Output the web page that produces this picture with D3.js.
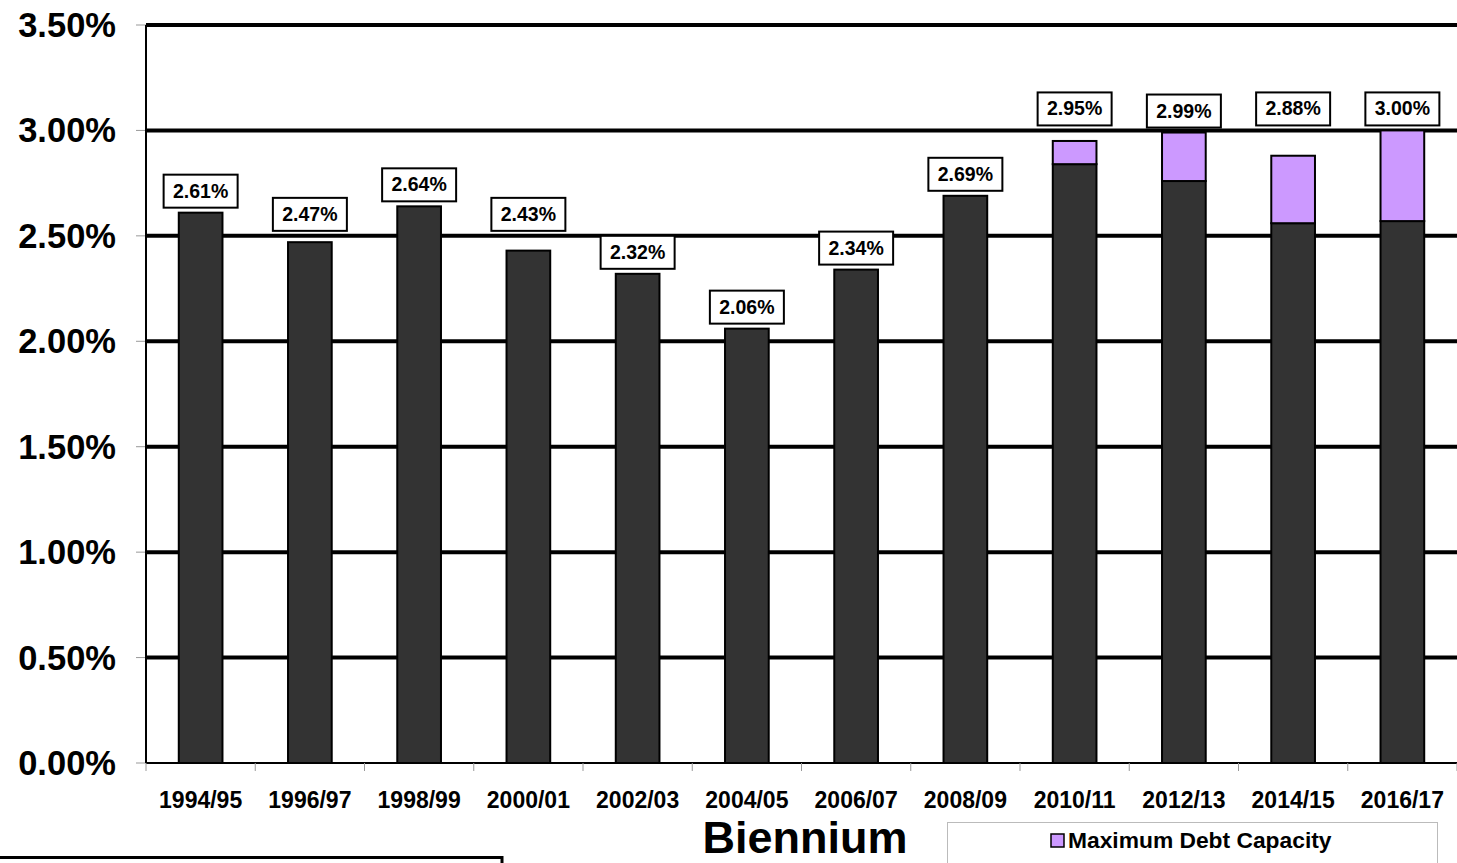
<!DOCTYPE html>
<html>
<head>
<meta charset="utf-8">
<script src="https://cdn.jsdelivr.net/npm/d3@7"></script>
<style>
  body { margin: 0; background: #fff; }
  svg { display: block; font-family: "Liberation Sans", Arial, sans-serif; font-weight: bold; }
</style>
</head>
<body>
<svg width="1457" height="863"></svg>
<script>
var biennia = ["1994/95", "1996/97", "1998/99", "2000/01", "2002/03", "2004/05",
               "2006/07", "2008/09", "2010/11", "2012/13", "2014/15", "2016/17"];
// debt service share (dark) and added maximum debt capacity (purple), in %
var debtService = [2.61, 2.47, 2.64, 2.43, 2.32, 2.06, 2.34, 2.69, 2.84, 2.76, 2.56, 2.57];
var maxCapacity = [0, 0, 0, 0, 0, 0, 0, 0, 0.11, 0.23, 0.32, 0.43];
var yTicks = [0, 0.5, 1, 1.5, 2, 2.5, 3, 3.5];

var svg = d3.select("svg"),
    plotL = 146, plotR = 1457, plotT = 25, plotB = 763;

var x = d3.scaleBand().domain(biennia).range([plotL, plotR]).paddingInner(0.6).paddingOuter(0.3);
var y = d3.scaleLinear().domain([0, 3.5]).range([plotB, plotT]);

var data = biennia.map(function(b, i) {
  return { name: b, base: debtService[i], extra: maxCapacity[i], total: +(debtService[i] + maxCapacity[i]).toFixed(2) };
});

// y axis labels + small gray ticks
var yAxis = svg.append("g");
yAxis.selectAll("line").data(yTicks).enter().append("line")
  .attr("x1", plotL - 10).attr("x2", plotL)
  .attr("y1", function(d) { return y(d); }).attr("y2", function(d) { return y(d); })
  .attr("stroke", "#999").attr("stroke-width", 1);
yAxis.selectAll("text").data(yTicks).enter().append("text")
  .attr("x", 116).attr("y", function(d) { return y(d) + 12; })
  .attr("text-anchor", "end").attr("font-size", 34.5)
  .text(function(d) { return d.toFixed(2) + "%"; });

// gridlines
svg.append("g").selectAll("line").data(yTicks.slice(1)).enter().append("line")
  .attr("x1", plotL).attr("x2", plotR)
  .attr("y1", function(d) { return y(d); }).attr("y2", function(d) { return y(d); })
  .attr("stroke", "#000").attr("stroke-width", 4);

// axis lines
svg.append("line").attr("x1", plotL).attr("x2", plotL).attr("y1", plotT).attr("y2", plotB)
  .attr("stroke", "#000").attr("stroke-width", 2);
svg.append("line").attr("x1", plotL).attr("x2", plotR).attr("y1", plotB).attr("y2", plotB)
  .attr("stroke", "#000").attr("stroke-width", 2);

// x ticks at band boundaries
var step = x.step();
svg.append("g").selectAll("line").data(d3.range(biennia.length + 1)).enter().append("line")
  .attr("x1", function(i) { return plotL + i * step; }).attr("x2", function(i) { return plotL + i * step; })
  .attr("y1", plotB).attr("y2", plotB + 8)
  .attr("stroke", "#999").attr("stroke-width", 1);

svg.append("g").selectAll("text").data(biennia).enter().append("text")
  .attr("x", function(d) { return x(d) + x.bandwidth() / 2; })
  .attr("y", 808).attr("text-anchor", "middle").attr("font-size", 23)
  .text(function(d) { return d; });

// bars
var bars = svg.append("g");
bars.selectAll(".base").data(data).enter().append("rect")
  .attr("class", "base")
  .attr("x", function(d) { return x(d.name); })
  .attr("width", x.bandwidth())
  .attr("y", function(d) { return y(d.base); })
  .attr("height", function(d) { return y(0) - y(d.base); })
  .attr("fill", "#333333").attr("stroke", "#000").attr("stroke-width", 2);
bars.selectAll(".extra").data(data.filter(function(d) { return d.extra > 0; })).enter().append("rect")
  .attr("class", "extra")
  .attr("x", function(d) { return x(d.name); })
  .attr("width", x.bandwidth())
  .attr("y", function(d) { return y(d.total); })
  .attr("height", function(d) { return y(d.base) - y(d.total); })
  .attr("fill", "#CC99FF").attr("stroke", "#000").attr("stroke-width", 2);

// value labels: just above the bar, lifted over a gridline they would sit on
var gridY = yTicks.map(function(t) { return y(t); });
function labelBottom(d) {
  var b = y(d.total) - 5;
  gridY.forEach(function(g) { if (g > b - 26 && g < b) b = g - 5; });
  return b;
}
var lab = svg.append("g").selectAll("g").data(data).enter().append("g")
  .attr("transform", function(d) {
    return "translate(" + (x(d.name) + x.bandwidth() / 2) + "," + labelBottom(d) + ")";
  });
lab.append("rect").attr("x", -37).attr("y", -33).attr("width", 74).attr("height", 33)
  .attr("fill", "#fff").attr("stroke", "#000").attr("stroke-width", 2);
lab.append("text").attr("x", 0).attr("y", -10).attr("text-anchor", "middle").attr("font-size", 19.5)
  .text(function(d) { return d.total.toFixed(2) + "%"; });

// axis title
svg.append("text").attr("x", 805).attr("y", 853).attr("text-anchor", "middle")
  .attr("font-size", 45).text("Biennium");

// legend
var lg = svg.append("g");
lg.append("rect").attr("x", 947.5).attr("y", 822.5).attr("width", 490).attr("height", 60)
  .attr("fill", "#fff").attr("stroke", "#bbb").attr("stroke-width", 1);
lg.append("rect").attr("x", 1051).attr("y", 834).attr("width", 13).attr("height", 13)
  .attr("fill", "#CC99FF").attr("stroke", "#000").attr("stroke-width", 1.5);
lg.append("text").attr("x", 1068).attr("y", 848).attr("font-size", 22.8).text("Maximum Debt Capacity");

// second legend box, cut off at the bottom
svg.append("rect").attr("x", -3).attr("y", 857.5).attr("width", 505).attr("height", 40)
  .attr("fill", "#fff").attr("stroke", "#000").attr("stroke-width", 3);
</script>
</body>
</html>
